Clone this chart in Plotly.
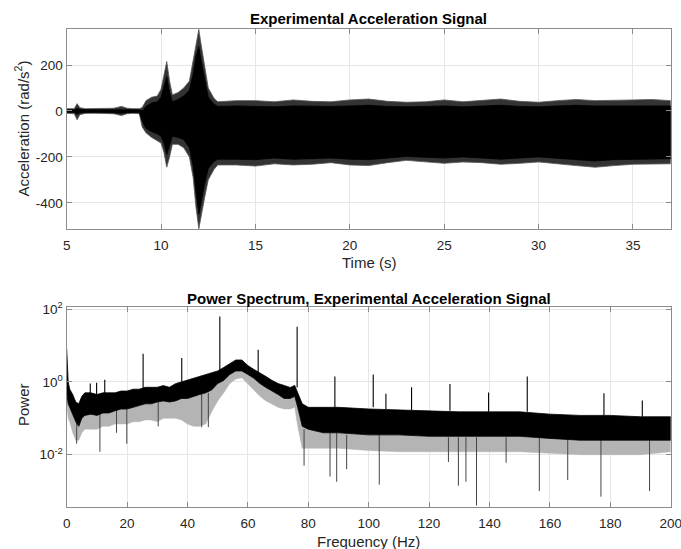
import plotly.graph_objects as go

# ---- Acceleration signal: envelope of the recorded trace (rad/s^2) ----
time_s = [5.0, 5.4, 5.55, 5.7, 6.0, 6.5, 7.0, 7.5, 7.9, 8.2, 8.5, 8.85,
          9.0, 9.2, 9.5, 9.8, 10.0, 10.15, 10.3, 10.45, 10.6, 10.9, 11.2,
          11.5, 11.7, 11.85, 12.0, 12.1, 12.3, 12.5, 12.8, 13.0,
          14, 15, 16, 17, 18, 19, 20, 21, 22, 23, 24, 25, 26, 27, 28, 29,
          30, 31, 32, 33, 34, 35, 36, 37]
# peak excursions
acc_peak_hi = [10, 10, 32, 14, 10, 10, 10, 12, 20, 12, 10, 10,
               15, 45, 60, 65, 95, 160, 215, 130, 70, 80, 100,
               130, 225, 300, 355, 300, 200, 100, 55, 40,
               45, 45, 40, 48, 42, 40, 48, 52, 42, 38, 40, 48, 40, 45, 52, 42,
               38, 45, 50, 45, 45, 48, 50, 45]
acc_peak_lo = [-10, -12, -38, -16, -10, -10, -10, -12, -20, -12, -10, -12,
               -70, -95, -115, -130, -140, -180, -245, -200, -145, -145, -160,
               -200, -290, -420, -513, -470, -380, -300, -255, -235,
               -235, -240, -230, -235, -232, -225, -235, -238, -225, -215, -222, -228, -222, -225, -232, -228,
               -222, -230, -238, -245, -238, -232, -232, -230]
# dense core of the oscillation
acc_core_hi = [5, 5, 12, 6, 5, 5, 5, 6, 8, 6, 5, 5,
               0, 20, 35, 40, 60, 100, 150, 80, 40, 50, 65,
               90, 160, 240, 280, 230, 140, 60, 30, 20,
               22, 20, 18, 22, 20, 20, 22, 25, 20, 18, 20, 22, 18, 20, 25, 20,
               18, 22, 25, 22, 22, 22, 25, 22]
acc_core_lo = [-6, -6, -15, -8, -6, -6, -6, -7, -10, -7, -6, -6,
               -45, -75, -90, -100, -110, -140, -190, -150, -110, -115, -125,
               -160, -240, -350, -450, -400, -320, -250, -220, -210,
               -210, -212, -205, -210, -208, -205, -210, -212, -205, -198, -200, -205, -200, -205, -210, -205,
               -200, -208, -212, -218, -212, -210, -210, -208]
acc_ticks = [-400, -200, 0, 200]
acc_tick_text = ["-400", "-200", "0", "200"]

# ---- Power spectrum: band of the noisy spectrum ----
freq_hz = [0, 0.5, 1, 2, 3, 4, 5, 6, 8, 10, 12, 14, 16, 18, 20, 22, 24, 26, 28,
           30, 32, 34, 36, 38, 40, 42, 44, 46, 48, 50, 52, 54, 56, 58, 60, 62,
           64, 66, 68, 70, 72, 74, 75.5, 76.5, 78, 80, 85, 90, 100, 110, 120,
           130, 140, 150, 160, 170, 180, 190, 200]
pow_hi = [8.0, 1.0, 0.63, 0.45, 0.28, 0.25, 0.40, 0.50, 0.50, 0.45, 0.50, 0.50,
          0.50, 0.56, 0.56, 0.63, 0.63, 0.71, 0.71, 0.71, 0.79, 0.71, 0.89, 1.0,
          1.1, 1.25, 1.4, 1.6, 1.8, 2.0, 2.5, 3.2, 4.0, 4.0, 2.8, 2.2, 1.8, 1.4,
          1.1, 0.9, 0.8, 0.7, 0.8, 0.5, 0.25, 0.2, 0.2, 0.2, 0.18, 0.17, 0.16,
          0.15, 0.15, 0.15, 0.13, 0.12, 0.12, 0.11, 0.11]
pow_lo = [0.5, 0.25, 0.2, 0.12, 0.08, 0.06, 0.1, 0.12, 0.13, 0.12, 0.14, 0.14,
          0.16, 0.18, 0.18, 0.2, 0.22, 0.25, 0.25, 0.28, 0.3, 0.28, 0.3, 0.35,
          0.35, 0.4, 0.45, 0.5, 0.6, 0.9, 1.1, 1.6, 2.0, 2.0, 1.6, 1.25, 0.9,
          0.7, 0.55, 0.45, 0.35, 0.35, 0.4, 0.2, 0.06, 0.05, 0.04, 0.04, 0.035,
          0.035, 0.032, 0.032, 0.032, 0.032, 0.028, 0.025, 0.025, 0.025, 0.025]
pow_floor = [0.3, 0.1, 0.08, 0.04, 0.025, 0.025, 0.04, 0.05, 0.05, 0.05, 0.06,
             0.06, 0.07, 0.07, 0.07, 0.08, 0.08, 0.09, 0.09, 0.08, 0.1, 0.1,
             0.1, 0.09, 0.07, 0.06, 0.06, 0.07, 0.15, 0.3, 0.5, 0.9, 1.2, 1.3,
             0.9, 0.6, 0.4, 0.3, 0.25, 0.2, 0.18, 0.18, 0.2, 0.06, 0.015, 0.015,
             0.015, 0.015, 0.013, 0.012, 0.012, 0.012, 0.012, 0.012, 0.011,
             0.01, 0.01, 0.01, 0.012]

# harmonic peaks: frequency, peak power, power at the foot of the peak
peak_freq = [7.8, 9.9, 12.6, 25.3, 38.1, 50.7, 63.4, 76.3, 88.8, 101.5, 105.7,
             114.2, 126.9, 139.7, 152.5, 177.9, 190.6]
peak_pow = [0.9, 0.95, 1.15, 5.9, 4.5, 63, 7.6, 33, 1.4, 1.6, 0.47,
            0.71, 0.88, 0.51, 1.4, 0.49, 0.31]
peak_foot = [0.4, 0.4, 0.4, 0.6, 0.9, 2.0, 1.8, 0.7, 0.2, 0.2, 0.18,
             0.17, 0.16, 0.15, 0.15, 0.12, 0.11]

# deep notches: frequency, lowest power, power at the top of the notch
notch_freq = [3.3, 11.0, 16.5, 19.9, 30.3, 44.7, 46.9, 78.6, 87.2, 89.4, 92.7,
              103.5, 126.4, 129.7, 132.2, 135.7, 145.5, 156.5, 165.9, 176.9, 193.0]
notch_pow = [0.02, 0.012, 0.04, 0.02, 0.06, 0.057, 0.057, 0.005, 0.0025, 0.0018,
             0.004, 0.0015, 0.0063, 0.0014, 0.0018, 0.0004, 0.006, 0.001, 0.002,
             0.0007, 0.001]
notch_top = [0.1, 0.15, 0.2, 0.2, 0.3, 0.5, 0.5, 0.05, 0.04, 0.04, 0.035,
             0.035, 0.03, 0.03, 0.03, 0.03, 0.03, 0.03, 0.03, 0.025, 0.025]
freq_ticks = [0, 20, 40, 60, 80, 100, 120, 140, 160, 180, 200]
pow_ticks = [1e-2, 1, 1e2]
pow_tick_text = ["10<sup>-2</sup>", "10<sup>0</sup>", "10<sup>2</sup>"]

FONT = "Arial, 'Liberation Sans', sans-serif"
AXIS_GREY = "#8c8c8c"
GRID_GREY = "#e6e6e6"
TEXT_GREY = "#262626"


def band(x, hi, lo):
    return list(x) + list(x)[::-1], list(hi) + list(lo)[::-1]


def segments(xs, y0s, y1s):
    sx, sy = [], []
    for x, a, b in zip(xs, y0s, y1s):
        sx += [x, x, None]
        sy += [a, b, None]
    return sx, sy


fig = go.Figure()

# acceleration trace
bx, by = band(time_s, acc_peak_hi, acc_peak_lo)
fig.add_trace(go.Scatter(x=bx, y=by, fill="toself", fillcolor="#333333",
                         line=dict(color="#555555", width=0.8), mode="lines",
                         hoverinfo="skip", xaxis="x", yaxis="y"))
bx, by = band(time_s, acc_core_hi, acc_core_lo)
fig.add_trace(go.Scatter(x=bx, y=by, fill="toself", fillcolor="#000000",
                         line=dict(color="#000000", width=0.8), mode="lines",
                         hoverinfo="skip", xaxis="x", yaxis="y"))

# power spectrum
bx, by = band(freq_hz, pow_lo, pow_floor)
fig.add_trace(go.Scatter(x=bx, y=by, fill="toself", fillcolor="#b4b4b4",
                         line=dict(color="#b4b4b4", width=0.5), mode="lines",
                         hoverinfo="skip", xaxis="x2", yaxis="y2"))
sx, sy = segments(notch_freq, notch_top, notch_pow)
fig.add_trace(go.Scatter(x=sx, y=sy, mode="lines",
                         line=dict(color="#444444", width=1),
                         hoverinfo="skip", xaxis="x2", yaxis="y2"))
bx, by = band(freq_hz, pow_hi, pow_lo)
fig.add_trace(go.Scatter(x=bx, y=by, fill="toself", fillcolor="#000000",
                         line=dict(color="#000000", width=0.8), mode="lines",
                         hoverinfo="skip", xaxis="x2", yaxis="y2"))
sx, sy = segments(peak_freq, peak_foot, peak_pow)
fig.add_trace(go.Scatter(x=sx, y=sy, mode="lines",
                         line=dict(color="#000000", width=1.1),
                         hoverinfo="skip", xaxis="x2", yaxis="y2"))

W, H = 681, 549
x_dom = [66.7 / W, 670.7 / W]
top_dom = [(H - 229) / H, (H - 29) / H]
bot_dom = [(H - 506.7) / H, (H - 307.3) / H]

axis_common = dict(
    showline=True, linecolor=AXIS_GREY, linewidth=1.3, mirror="ticks",
    ticks="inside", ticklen=5, tickcolor=AXIS_GREY, tickwidth=1,
    showgrid=True, gridcolor=GRID_GREY, gridwidth=1, zeroline=False,
    tickfont=dict(family=FONT, size=13.5, color=TEXT_GREY),
    automargin=False, ticklabeloverflow="allow",
)

fig.update_layout(
    width=W, height=H, margin=dict(l=0, r=0, t=0, b=0),
    paper_bgcolor="white", plot_bgcolor="white", showlegend=False,
    xaxis=dict(domain=x_dom, range=[5, 37], tick0=5, dtick=5, anchor="y",
               ticklabelstandoff=4, **axis_common),
    yaxis=dict(domain=top_dom, range=[-514, 357], tickvals=acc_ticks,
               ticktext=acc_tick_text, anchor="x", **axis_common),
    xaxis2=dict(domain=x_dom, range=[-0.001, 200.001], tickvals=freq_ticks,
                anchor="y2", ticklabelstandoff=4, **axis_common),
    yaxis2=dict(domain=bot_dom, type="log", range=[-3.43, 2.05],
                tickvals=pow_ticks, ticktext=pow_tick_text,
                anchor="x2", **axis_common),
)


def label(text, x, y, size=15, bold=False, angle=0, color=TEXT_GREY):
    fig.add_annotation(
        text=f"<b>{text}</b>" if bold else text, x=x / W, y=1 - y / H,
        xref="paper", yref="paper", showarrow=False, textangle=angle,
        xanchor="center", yanchor="middle",
        font=dict(family=FONT, size=size, color=color))


cx = (66.7 + 670.7) / 2
label("Experimental Acceleration Signal", cx, 18, bold=True, color="#000000")
label("Time (s)", cx, 263)
label("Acceleration (rad/s<sup>2</sup>)", 21.5, 129, angle=-90)
label("Power Spectrum, Experimental Acceleration Signal", cx, 298, bold=True,
      color="#000000")
label("Frequency (Hz)", cx, 541)
label("Power", 23, 405, angle=-90)

fig.write_html("out.html")
